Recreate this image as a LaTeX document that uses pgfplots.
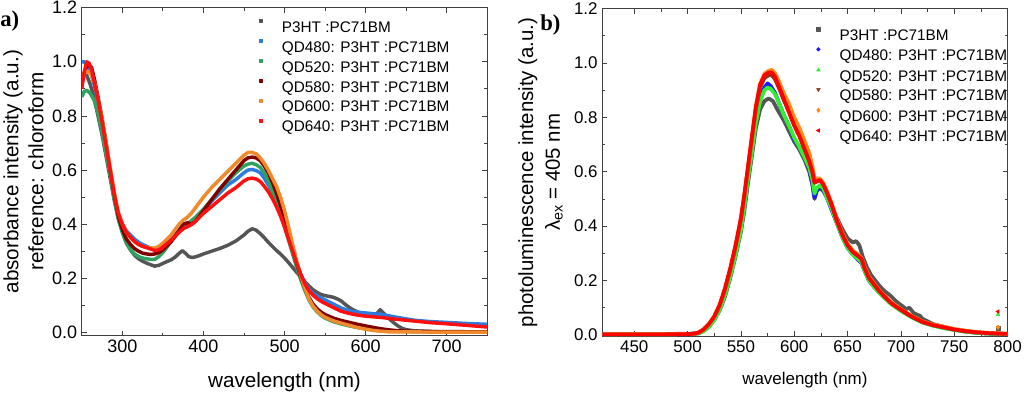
\documentclass[border=0pt]{standalone}
\usepackage{fontspec}
\setmainfont{Liberation Sans}
\newfontfamily\labfont{Liberation Serif}
\usepackage{pgfplots}
\pgfplotsset{compat=1.18}
\definecolor{cgray}{HTML}{555555}
\definecolor{cblue}{HTML}{2B7BE0}
\definecolor{cgreen}{HTML}{2EA35F}
\definecolor{cdred}{HTML}{7F0000}
\definecolor{corange}{HTML}{F08A2C}
\definecolor{cred}{HTML}{FF1010}
\definecolor{rblue}{HTML}{1A1AFF}
\definecolor{rgreen}{HTML}{33EE33}
\definecolor{rbrown}{HTML}{8B3A1A}
\definecolor{rorange}{HTML}{FF8C1A}
\definecolor{rred}{HTML}{FF0000}
\pgfplotsset{
  myax/.style={
    scale only axis, anchor=south west,
    tick align=inside,
    major tick length=3.75pt, minor tick length=2.2pt,
    axis line style={line width=0.6pt, black!75},
    every tick/.style={line width=0.6pt, black!75},
    /pgf/number format/assume math mode=true,
    ytick={0,0.2,0.4,0.6,0.8,1.0,1.2}, minor y tick num=1,
    yticklabel style={/pgf/number format/.cd, fixed, fixed zerofill, precision=1},
    xticklabel style={/pgf/number format/.cd, fixed, int detect, 1000 sep={}},
    legend cell align=left,
    legend image code/.code={\draw[##1, only marks] plot coordinates {(0pt,4.1pt)};},
    every axis plot/.append style={line join=round},
  }
}
\begin{document}
\begin{tikzpicture}
\useasboundingbox (0,0) rectangle (768pt,294.75pt);
\node[anchor=base west, inner sep=0pt, font=\labfont\bfseries\fontsize{17}{18}\selectfont] at (0pt,274.7pt) {a)};
\node[anchor=base west, inner sep=0pt, font=\labfont\bfseries\fontsize{17}{18}\selectfont] at (405pt,271.7pt) {b)};

\begin{axis}[myax,
  at={(61.35pt,43.0pt)}, width=304.1pt, height=246pt,
  xmin=250, xmax=750, ymin=-0.012, ymax=1.2,
  xtick={300,400,500,600,700}, minor x tick num=1,
  ticklabel style={font=\fontsize{13.5}{14}\selectfont},
  xlabel={wavelength (nm)},
  xlabel style={at={(axis description cs:0.5,0)}, anchor=center, yshift=-34.7pt, font=\fontsize{15.5}{16}\selectfont},
  ylabel={absorbance intensity (a.u.)\\reference: chloroform},
  ylabel style={at={(axis description cs:-0.1439,0.5)}, anchor=center, align=center, font=\fontsize{15.5}{18.75}\selectfont},
  legend style={draw=none, fill=none, at={(axis description cs:0.437,0.9646)}, anchor=north west,
    inner sep=0pt, outer sep=0pt, row sep=5.25pt,
    nodes={inner sep=0pt, text height=9pt, text depth=0pt, font=\fontsize{11.5}{12}\selectfont},
    /tikz/column 1/.style={column sep=15pt}},
]
\addlegendimage{only marks, mark=square*, mark size=1.1pt, color=cgray}
\addlegendimage{only marks, mark=square*, mark size=1.1pt, color=cblue}
\addlegendimage{only marks, mark=square*, mark size=1.1pt, color=cgreen}
\addlegendimage{only marks, mark=square*, mark size=1.1pt, color=cdred}
\addlegendimage{only marks, mark=square*, mark size=1.1pt, color=corange}
\addlegendimage{only marks, mark=square*, mark size=1.1pt, color=cred}
\legend{P3HT :PC71BM, QD480: P3HT :PC71BM, QD520: P3HT :PC71BM, QD580: P3HT :PC71BM, QD600: P3HT :PC71BM, QD640: P3HT :PC71BM}
% P3HT
\addplot[forget plot, cgray, line width=2.6pt] coordinates {(252,0.96)(256,0.95)(260,0.92)(265,0.87)(270,0.80)(275,0.73)(280,0.65)(285,0.57)(290,0.49)(295,0.42)(300,0.37)(305,0.33)(310,0.305)(315,0.285)(320,0.272)(325,0.263)(330,0.256)(335,0.250)(340,0.245)(345,0.248)(350,0.255)(355,0.262)(360,0.268)(365,0.278)(370,0.292)(374,0.302)(378,0.292)(382,0.280)(386,0.277)(390,0.279)(395,0.284)(400,0.290)(410,0.300)(420,0.310)(430,0.322)(440,0.338)(450,0.360)(455,0.374)(460,0.383)(465,0.378)(470,0.365)(475,0.350)(480,0.333)(485,0.318)(490,0.303)(495,0.290)(500,0.275)(505,0.258)(510,0.240)(515,0.222)(520,0.205)(525,0.188)(530,0.172)(535,0.158)(540,0.148)(545,0.140)(550,0.136)(555,0.133)(560,0.130)(565,0.124)(570,0.116)(575,0.103)(580,0.092)(585,0.083)(590,0.076)(595,0.070)(600,0.066)(605,0.063)(610,0.062)(614,0.070)(618,0.084)(622,0.072)(626,0.060)(630,0.048)(635,0.035)(640,0.024)(645,0.015)(650,0.010)(660,0.006)(680,0.003)(700,0.002)(750,0.001)};
% QD480
\addplot[forget plot, cblue, line width=2.6pt] coordinates {(250,1.0)(253,1.0)(256,0.99)(260,0.97)(265,0.92)(270,0.85)(275,0.77)(280,0.68)(285,0.59)(290,0.50)(295,0.44)(300,0.40)(305,0.375)(310,0.36)(315,0.345)(320,0.333)(325,0.325)(330,0.318)(335,0.312)(340,0.308)(345,0.31)(350,0.32)(355,0.333)(360,0.345)(365,0.36)(370,0.375)(375,0.39)(380,0.40)(385,0.41)(390,0.425)(395,0.44)(400,0.455)(410,0.485)(420,0.515)(430,0.545)(440,0.565)(450,0.59)(455,0.600)(460,0.602)(465,0.598)(470,0.59)(475,0.57)(480,0.545)(485,0.515)(490,0.48)(495,0.44)(500,0.40)(505,0.35)(510,0.30)(515,0.255)(520,0.215)(525,0.185)(530,0.16)(535,0.145)(540,0.135)(545,0.127)(550,0.12)(560,0.105)(570,0.09)(580,0.08)(590,0.075)(600,0.072)(620,0.066)(640,0.055)(660,0.045)(680,0.04)(700,0.037)(725,0.033)(750,0.03)};
% QD520
\addplot[forget plot, cgreen, line width=2.6pt] coordinates {(250,0.87)(253,0.89)(256,0.895)(260,0.885)(265,0.86)(270,0.81)(275,0.74)(280,0.66)(285,0.58)(290,0.49)(295,0.42)(300,0.37)(305,0.33)(310,0.305)(315,0.29)(320,0.28)(325,0.275)(330,0.272)(335,0.27)(340,0.27)(345,0.28)(350,0.295)(355,0.315)(360,0.335)(365,0.355)(370,0.375)(375,0.39)(380,0.40)(390,0.425)(400,0.455)(410,0.49)(420,0.525)(430,0.56)(440,0.59)(450,0.615)(455,0.622)(460,0.625)(465,0.62)(470,0.61)(475,0.59)(480,0.56)(485,0.525)(490,0.485)(495,0.44)(500,0.39)(505,0.34)(510,0.29)(515,0.24)(520,0.195)(525,0.155)(530,0.12)(535,0.095)(540,0.077)(545,0.063)(550,0.053)(560,0.04)(570,0.031)(580,0.024)(590,0.018)(600,0.013)(620,0.007)(640,0.004)(660,0.003)(700,0.002)(750,0.001)};
% QD580
\addplot[forget plot, cdred, line width=2.6pt] coordinates {(250,0.93)(254,0.97)(258,0.99)(262,0.98)(266,0.93)(270,0.87)(275,0.79)(280,0.70)(285,0.60)(290,0.51)(295,0.43)(300,0.38)(305,0.345)(310,0.325)(315,0.31)(320,0.30)(325,0.293)(330,0.29)(335,0.288)(340,0.29)(345,0.295)(350,0.305)(355,0.32)(360,0.335)(365,0.355)(370,0.378)(375,0.40)(380,0.405)(385,0.40)(390,0.41)(395,0.43)(400,0.45)(410,0.49)(420,0.53)(430,0.565)(440,0.60)(450,0.635)(455,0.645)(460,0.648)(465,0.645)(470,0.635)(475,0.615)(480,0.59)(485,0.555)(490,0.515)(495,0.47)(500,0.42)(505,0.365)(510,0.31)(515,0.255)(520,0.205)(525,0.165)(530,0.13)(535,0.105)(540,0.088)(545,0.075)(550,0.066)(560,0.053)(570,0.044)(580,0.037)(590,0.030)(600,0.024)(610,0.018)(620,0.013)(630,0.009)(640,0.006)(660,0.004)(700,0.003)(750,0.002)};
% QD600
\addplot[forget plot, corange, line width=2.6pt] coordinates {(250,0.94)(254,0.96)(258,0.965)(262,0.95)(266,0.92)(270,0.86)(275,0.79)(280,0.70)(285,0.61)(290,0.52)(295,0.445)(300,0.40)(305,0.37)(310,0.35)(315,0.335)(320,0.325)(325,0.318)(330,0.315)(335,0.312)(340,0.312)(345,0.318)(350,0.33)(355,0.345)(360,0.36)(365,0.38)(370,0.40)(375,0.415)(380,0.425)(385,0.44)(390,0.46)(395,0.48)(400,0.50)(410,0.535)(420,0.565)(430,0.595)(440,0.625)(450,0.655)(455,0.665)(460,0.665)(465,0.66)(470,0.645)(475,0.625)(480,0.60)(485,0.57)(490,0.54)(495,0.50)(500,0.45)(505,0.39)(510,0.325)(515,0.265)(520,0.21)(525,0.165)(530,0.125)(535,0.098)(540,0.08)(545,0.066)(550,0.056)(560,0.043)(570,0.034)(580,0.026)(590,0.018)(600,0.012)(610,0.007)(620,0.004)(630,0.002)(650,0.002)(700,0.001)(750,0.001)};
% QD640
\addplot[forget plot, cred, line width=2.6pt] coordinates {(250,0.90)(253,0.96)(256,1.0)(259,0.995)(262,0.97)(265,0.93)(270,0.86)(275,0.78)(280,0.69)(285,0.60)(290,0.51)(295,0.44)(300,0.40)(305,0.37)(310,0.352)(315,0.336)(320,0.325)(325,0.318)(330,0.313)(335,0.308)(340,0.303)(345,0.305)(350,0.315)(355,0.328)(360,0.34)(365,0.355)(370,0.37)(375,0.383)(380,0.39)(385,0.398)(390,0.41)(395,0.425)(400,0.44)(410,0.465)(420,0.49)(430,0.515)(440,0.535)(450,0.56)(455,0.568)(460,0.57)(465,0.567)(470,0.558)(475,0.54)(480,0.52)(485,0.495)(490,0.465)(495,0.43)(500,0.39)(505,0.345)(510,0.30)(515,0.255)(520,0.215)(525,0.18)(530,0.155)(535,0.138)(540,0.125)(545,0.115)(550,0.107)(560,0.092)(570,0.078)(580,0.07)(590,0.064)(600,0.06)(620,0.055)(640,0.048)(660,0.042)(680,0.036)(700,0.032)(725,0.026)(750,0.02)};
\end{axis}

\begin{axis}[myax,
  at={(451.7pt,42.75pt)}, width=304.0pt, height=245.5pt,
  xmin=420, xmax=800, ymin=-0.004, ymax=1.2,
  xtick={450,500,550,600,650,700,750,800}, minor x tick num=1,
  ticklabel style={font=\fontsize{12.7}{13}\selectfont},
  xlabel={wavelength (nm)},
  xlabel style={at={(axis description cs:0.5,0)}, anchor=center, yshift=-33pt, font=\fontsize{12.7}{13}\selectfont},
  ylabel={photoluminescence intensity (a.u.)\\λ\textsubscript{ex} = 405 nm},
  ylabel style={at={(axis description cs:-0.1523,0.5)}, anchor=center, align=center, font=\fontsize{15.3}{20}\selectfont},
  legend style={draw=none, fill=none, at={(axis description cs:0.528,0.9436)}, anchor=north west,
    inner sep=0pt, outer sep=0pt, row sep=5.25pt,
    nodes={inner sep=0pt, text height=9pt, text depth=0pt, font=\fontsize{11.5}{12}\selectfont},
    /tikz/column 1/.style={column sep=14.5pt}},
]
\addlegendimage{only marks, mark=square*, mark size=1.4pt, color=cgray}
\addlegendimage{only marks, mark=*, mark size=1.4pt, color=rblue}
\addlegendimage{only marks, mark=triangle*, mark size=1.6pt, color=rgreen}
\addlegendimage{only marks, mark=triangle*, mark options={rotate=180}, mark size=1.6pt, color=rbrown}
\addlegendimage{only marks, mark=diamond*, mark size=1.7pt, color=rorange}
\addlegendimage{only marks, mark=triangle*, mark options={rotate=90}, mark size=1.6pt, color=rred}
\legend{P3HT :PC71BM, QD480: P3HT :PC71BM, QD520: P3HT :PC71BM, QD580: P3HT :PC71BM, QD600: P3HT :PC71BM, QD640: P3HT :PC71BM}
% P3HT
\addplot[forget plot, cgray, line width=2.8pt] coordinates {(420,0.003)(500,0.004)(510,0.006)(515,0.015)(520,0.03)(525,0.055)(530,0.09)(535,0.14)(540,0.21)(545,0.29)(550,0.38)(553,0.45)(556,0.54)(560,0.65)(564,0.76)(568,0.83)(572,0.86)(576,0.87)(580,0.86)(584,0.83)(590,0.79)(595,0.75)(600,0.71)(605,0.68)(610,0.64)(614,0.60)(617,0.55)(619,0.50)(621,0.53)(624,0.54)(627,0.53)(630,0.51)(635,0.47)(640,0.43)(645,0.39)(650,0.355)(655,0.34)(658,0.345)(661,0.33)(664,0.29)(668,0.25)(672,0.22)(676,0.2)(680,0.18)(685,0.16)(690,0.145)(695,0.125)(700,0.11)(705,0.095)(708,0.1)(712,0.08)(718,0.07)(720,0.06)(725,0.05)(730,0.04)(740,0.03)(750,0.02)(760,0.013)(770,0.008)(780,0.005)(790,0.004)(800,0.003)};
% QD480
\addplot[forget plot, rblue, line width=2.8pt] coordinates {(420,0.002)(500,0.003)(510,0.006)(515,0.015)(520,0.032)(525,0.058)(530,0.095)(535,0.15)(540,0.22)(545,0.30)(550,0.39)(553,0.47)(556,0.56)(560,0.67)(564,0.79)(568,0.87)(572,0.91)(575,0.925)(578,0.915)(582,0.89)(586,0.85)(590,0.81)(595,0.77)(600,0.72)(605,0.69)(610,0.65)(614,0.61)(617,0.56)(619,0.505)(621,0.53)(624,0.545)(627,0.535)(630,0.51)(635,0.46)(640,0.41)(645,0.36)(650,0.32)(655,0.295)(660,0.275)(663,0.265)(666,0.235)(670,0.2)(675,0.175)(680,0.155)(690,0.118)(700,0.09)(710,0.066)(720,0.047)(730,0.035)(740,0.026)(750,0.019)(760,0.013)(770,0.009)(780,0.006)(800,0.003)};
% QD520
\addplot[forget plot, rgreen, line width=2.8pt] coordinates {(420,0.002)(500,0.003)(510,0.005)(515,0.013)(520,0.03)(525,0.055)(530,0.092)(535,0.146)(540,0.215)(545,0.295)(550,0.385)(553,0.465)(556,0.555)(560,0.665)(564,0.78)(568,0.86)(572,0.9)(575,0.91)(578,0.905)(582,0.885)(586,0.85)(590,0.81)(595,0.77)(600,0.725)(605,0.69)(610,0.65)(614,0.615)(617,0.57)(619,0.52)(621,0.54)(624,0.55)(627,0.54)(630,0.51)(635,0.465)(640,0.41)(645,0.36)(650,0.32)(655,0.295)(660,0.278)(663,0.268)(666,0.235)(670,0.2)(675,0.175)(680,0.153)(690,0.116)(700,0.088)(710,0.065)(720,0.046)(730,0.034)(740,0.025)(750,0.018)(760,0.012)(770,0.008)(780,0.005)(800,0.003)};
% QD580
\addplot[forget plot, rbrown, line width=2.8pt] coordinates {(420,0.002)(500,0.003)(505,0.004)(510,0.008)(515,0.02)(520,0.04)(525,0.067)(530,0.108)(535,0.168)(540,0.24)(545,0.325)(550,0.425)(553,0.505)(556,0.595)(560,0.715)(564,0.83)(568,0.91)(572,0.945)(576,0.955)(579,0.955)(582,0.94)(586,0.905)(590,0.865)(595,0.82)(600,0.77)(605,0.73)(610,0.68)(614,0.64)(617,0.6)(619,0.56)(621,0.565)(624,0.57)(627,0.555)(630,0.53)(635,0.48)(640,0.42)(645,0.37)(650,0.33)(655,0.305)(660,0.29)(663,0.28)(666,0.245)(670,0.21)(675,0.185)(680,0.16)(690,0.12)(700,0.092)(710,0.067)(720,0.048)(730,0.036)(740,0.028)(750,0.02)(760,0.014)(770,0.01)(780,0.007)(800,0.004)};
% QD600
\addplot[forget plot, rorange, line width=2.8pt] coordinates {(420,0.002)(500,0.003)(505,0.004)(510,0.008)(515,0.02)(520,0.04)(525,0.068)(530,0.11)(535,0.17)(540,0.245)(545,0.33)(550,0.43)(553,0.51)(556,0.6)(560,0.72)(564,0.84)(568,0.925)(572,0.96)(576,0.972)(579,0.975)(582,0.962)(586,0.93)(590,0.89)(595,0.85)(600,0.80)(605,0.76)(610,0.71)(614,0.67)(617,0.62)(619,0.575)(621,0.575)(624,0.575)(627,0.56)(630,0.535)(635,0.485)(640,0.425)(645,0.375)(650,0.335)(655,0.31)(660,0.295)(663,0.283)(666,0.25)(670,0.215)(675,0.188)(680,0.163)(690,0.123)(700,0.095)(710,0.07)(720,0.05)(730,0.038)(740,0.03)(750,0.022)(760,0.016)(770,0.011)(780,0.008)(800,0.004)};
% QD640
\addplot[forget plot, rred, line width=2.8pt] coordinates {(420,0.002)(440,0.002)(460,0.002)(480,0.002)(500,0.003)(505,0.004)(510,0.008)(515,0.02)(520,0.04)(525,0.068)(530,0.11)(535,0.17)(540,0.245)(545,0.33)(550,0.43)(553,0.51)(556,0.6)(560,0.72)(564,0.84)(568,0.92)(572,0.955)(576,0.965)(579,0.965)(582,0.95)(586,0.91)(590,0.87)(595,0.82)(600,0.77)(605,0.73)(610,0.68)(614,0.64)(617,0.6)(619,0.56)(621,0.565)(624,0.57)(627,0.555)(630,0.53)(635,0.48)(640,0.42)(645,0.37)(650,0.33)(655,0.305)(660,0.29)(663,0.28)(666,0.245)(670,0.21)(675,0.185)(680,0.16)(685,0.14)(690,0.12)(695,0.105)(700,0.093)(705,0.08)(710,0.068)(720,0.048)(730,0.036)(740,0.028)(750,0.02)(760,0.014)(770,0.01)(780,0.007)(790,0.005)(800,0.004)};
% isolated points near 791 nm
\addplot[forget plot, only marks, mark=square*, mark size=1.4pt, color=cgray] coordinates {(791,0.025)};
\addplot[forget plot, only marks, mark=diamond*, mark size=1.7pt, color=rorange] coordinates {(791,0.028)};
\addplot[forget plot, only marks, mark=triangle*, mark size=1.6pt, color=rgreen] coordinates {(791,0.075)};
\addplot[forget plot, only marks, mark=triangle*, mark options={rotate=90}, mark size=1.6pt, color=rred] coordinates {(791,0.086)};
\end{axis}
\end{tikzpicture}
\end{document}
